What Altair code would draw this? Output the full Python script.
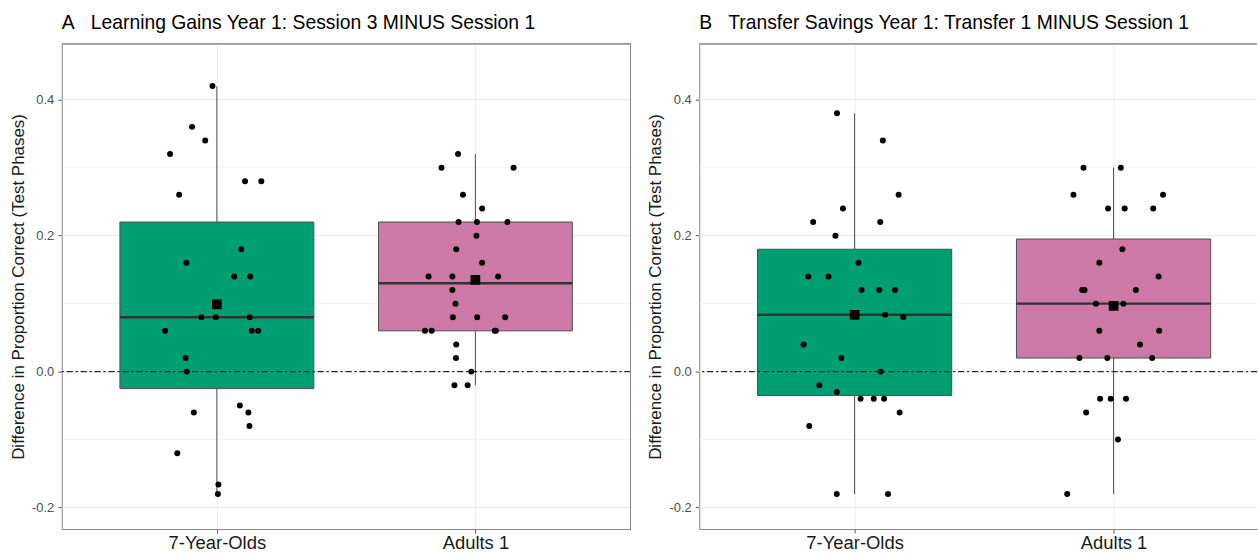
import altair as alt
import pandas as pd

# ---- categories -------------------------------------------------------------
GROUPS = ["7-Year-Olds", "Adults 1"]
POSITIONS = [1, 2]
FILLS = ["#009E73", "#CC79A7"]

# ---- panel A: Session 3 minus Session 1 -------------------------------------
a_child_vals = [0.42, 0.36, 0.34, 0.32, 0.28, 0.28, 0.26, 0.18, 0.16, 0.14, 0.14,
                0.08, 0.08, 0.08, 0.06, 0.06, 0.06, 0.02, 0.00, -0.05, -0.06,
                -0.06, -0.08, -0.12, -0.166, -0.18]
a_child_jitter = [-0.017, -0.096, -0.045, -0.181, 0.109, 0.172, -0.146, 0.094,
                  -0.118, 0.067, 0.129, -0.060, -0.004, 0.127, -0.200, 0.135,
                  0.160, -0.121, -0.116, 0.089, -0.089, 0.122, 0.126, -0.153,
                  0.006, 0.004]
a_adult_vals = [0.32, 0.30, 0.30, 0.26, 0.24, 0.22, 0.22, 0.22, 0.20, 0.18, 0.16,
                0.14, 0.14, 0.14, 0.12, 0.10, 0.08, 0.08, 0.08, 0.06, 0.06, 0.06,
                0.06, 0.04, 0.02, 0.00, -0.02, -0.02]
a_adult_jitter = [-0.067, -0.131, 0.148, -0.048, 0.026, -0.065, 0.006, 0.124,
                  0.004, -0.074, 0.026, -0.181, -0.089, 0.088, -0.089, -0.077,
                  -0.087, 0.007, 0.115, -0.195, -0.169, 0.075, 0.079, -0.074,
                  -0.075, -0.016, -0.081, -0.030]
a_q1 = [-0.025, 0.06]
a_median = [0.08, 0.13]
a_q3 = [0.22, 0.22]
a_whisk_lo = [-0.18, -0.02]
a_whisk_hi = [0.42, 0.32]
a_mean = [0.099, 0.135]

# ---- panel B: Transfer 1 minus Session 1 ------------------------------------
b_child_vals = [0.38, 0.34, 0.26, 0.24, 0.22, 0.22, 0.20, 0.16, 0.14, 0.14, 0.12,
                0.12, 0.12, 0.0835, 0.08, 0.04, 0.02, 0.00, -0.02, -0.03, -0.04,
                -0.04, -0.04, -0.06, -0.08, -0.18, -0.18]
b_child_jitter = [-0.068, 0.109, 0.170, -0.045, -0.160, 0.099, -0.074, 0.015,
                  -0.179, -0.101, 0.027, 0.095, 0.156, 0.118, 0.188, -0.197,
                  -0.051, 0.101, -0.136, -0.069, 0.023, 0.074, 0.114, 0.174,
                  -0.175, -0.069, 0.129]
b_adult_vals = [0.30, 0.30, 0.26, 0.26, 0.24, 0.24, 0.24, 0.18, 0.16, 0.14, 0.12,
                0.12, 0.12, 0.10, 0.10, 0.06, 0.06, 0.04, 0.02, 0.02, 0.02, -0.04,
                -0.04, -0.04, -0.06, -0.10, -0.18]
b_adult_jitter = [-0.116, 0.028, -0.155, 0.191, -0.021, 0.043, 0.153, 0.034,
                  -0.055, 0.174, -0.121, -0.112, 0.086, -0.068, 0.038, -0.055,
                  0.176, 0.102, -0.132, -0.024, 0.149, -0.052, -0.011, 0.048,
                  -0.106, 0.017, -0.179]
b_q1 = [-0.035, 0.02]
b_median = [0.0835, 0.10]
b_q3 = [0.18, 0.195]
b_whisk_lo = [-0.18, -0.18]
b_whisk_hi = [0.38, 0.30]
b_mean = [0.0835, 0.0967]

# ---- axes -------------------------------------------------------------------
Y_MIN, Y_MAX = -0.2315, 0.482
Y_MAJOR = [-0.2, 0.0, 0.2, 0.4]
Y_MINOR = [-0.1, 0.1, 0.3]
Y_TITLE = "Difference in Proportion Correct (Test Phases)"
BOX_HALF = 0.375

FONT = "Liberation Sans"
FRAME = "#858585"
GRID = "#ebebeb"

label_expr = " : ".join(
    f"datum.value == {p} ? '{g}'" for p, g in zip(POSITIONS, GROUPS)
) + " : ''"
y_label_expr = ("datum.value < 0 ? '-' + format(-datum.value, '.1f') "
                ": format(datum.value, '.1f')")

X_AXIS = alt.Axis(values=POSITIONS, labelExpr=label_expr, title=None,
                  grid=True, gridColor=GRID, gridWidth=1,
                  domain=True, domainColor=FRAME, domainWidth=1,
                  ticks=True, tickColor="#555555", tickSize=4,
                  labelFontSize=18.5, labelColor="#1a1a1a", labelPadding=1,
                  labelFont=FONT)
Y_AXIS = alt.Axis(values=Y_MAJOR, labelExpr=y_label_expr, title=Y_TITLE,
                  grid=False, domain=True, domainColor=FRAME, domainWidth=1,
                  ticks=True, tickColor="#555555", tickSize=4,
                  labelFontSize=13, labelColor="#4d4d4d", labelPadding=4,
                  labelFont=FONT, titleFont=FONT, titleFontSize=17,
                  titleFontWeight="normal", titleColor="#1a1a1a",
                  titlePadding=4)


def panel(title, child_vals, child_jit, adult_vals, adult_jit,
          q1, med, q3, lo, hi, mean, x_max, width, right_frame):
    pts = pd.DataFrame({
        "group": [GROUPS[0]] * len(child_vals) + [GROUPS[1]] * len(adult_vals),
        "pos": [POSITIONS[0]] * len(child_vals) + [POSITIONS[1]] * len(adult_vals),
        "jit": child_jit + adult_jit,
        "val": child_vals + adult_vals,
    })
    box = pd.DataFrame({
        "group": GROUPS, "pos": POSITIONS, "q1": q1, "med": med, "q3": q3,
        "lo": lo, "hi": hi, "mean": mean,
    })
    grid = pd.DataFrame({
        "y": Y_MAJOR + Y_MINOR,
        "w": [1.0] * len(Y_MAJOR) + [0.6] * len(Y_MINOR),
    })

    xs = alt.Scale(domain=[0.4, x_max], nice=False, zero=False)
    ys = alt.Scale(domain=[Y_MIN, Y_MAX], nice=False, zero=False)

    def X(field):
        return alt.X(field, scale=xs, axis=X_AXIS)

    def Y(field):
        return alt.Y(field, scale=ys, axis=Y_AXIS)

    grid_layer = alt.Chart(grid).mark_rule(color=GRID).encode(
        y=Y("y:Q"),
        strokeWidth=alt.StrokeWidth("w:Q", scale=None),
    )
    whisk_lo = alt.Chart(box).mark_rule(color="#4d4d4d", strokeWidth=1).encode(
        x=X("pos:Q"), y=Y("lo:Q"), y2="q1:Q",
    )
    whisk_hi = alt.Chart(box).mark_rule(color="#4d4d4d", strokeWidth=1).encode(
        x=X("pos:Q"), y=Y("q3:Q"), y2="hi:Q",
    )
    boxes = alt.Chart(box).transform_calculate(
        x0=f"datum.pos - {BOX_HALF}", x1=f"datum.pos + {BOX_HALF}"
    ).mark_bar(stroke="#4d4d4d", strokeWidth=1, opacity=1).encode(
        x=X("x0:Q"), x2="x1:Q", y=Y("q1:Q"), y2="q3:Q",
        color=alt.Color("group:N", scale=alt.Scale(domain=GROUPS, range=FILLS),
                        legend=None),
    )
    medians = alt.Chart(box).transform_calculate(
        x0=f"datum.pos - {BOX_HALF}", x1=f"datum.pos + {BOX_HALF}"
    ).mark_rule(color="#333333", strokeWidth=2.5).encode(
        x=X("x0:Q"), x2="x1:Q", y=Y("med:Q"),
    )
    zero = alt.Chart(box).mark_rule(
        color="#222222", strokeWidth=1, strokeDash=[6, 3, 2, 3]
    ).encode(y=alt.datum(0, scale=ys, axis=Y_AXIS))

    points = alt.Chart(pts).transform_calculate(
        xj="datum.pos + datum.jit"
    ).mark_circle(size=36, color="black", opacity=1).encode(
        x=X("xj:Q"), y=Y("val:Q"),
    )
    means = alt.Chart(box).mark_point(
        shape="square", filled=True, size=95, color="black", opacity=1
    ).encode(x=X("pos:Q"), y=Y("mean:Q"))

    frame_top = alt.Chart(box).mark_rule(color=FRAME, strokeWidth=1).encode(
        y=alt.datum(Y_MAX, scale=ys, axis=Y_AXIS)
    )

    layers = [grid_layer, whisk_lo, whisk_hi, boxes, medians, zero,
              points, means, frame_top]
    if right_frame:
        layers.append(
            alt.Chart(box).mark_rule(color=FRAME, strokeWidth=1).encode(
                x=alt.datum(x_max, scale=xs, axis=X_AXIS)
            )
        )
    return alt.layer(*layers).properties(
        width=width, height=487,
        title=alt.TitleParams(title, anchor="start", frame="group",
                              fontSize=19.4, font=FONT, fontWeight="normal",
                              color="black", offset=10),
    )


left = panel("A\u00a0\u00a0\u00a0Learning Gains Year 1: Session 3 MINUS Session 1",
             a_child_vals, a_child_jitter, a_adult_vals, a_adult_jitter,
             a_q1, a_median, a_q3, a_whisk_lo, a_whisk_hi, a_mean,
             2.6, 571, True)
right = panel("B\u00a0\u00a0\u00a0Transfer Savings Year 1: Transfer 1 MINUS Session 1",
              b_child_vals, b_child_jitter, b_adult_vals, b_adult_jitter,
              b_q1, b_median, b_q3, b_whisk_lo, b_whisk_hi, b_mean,
              0.4 + 560 / 260.0, 560, False)

chart = alt.hconcat(left, right, spacing=15).properties(
    padding={"left": 9, "top": 11, "right": 0, "bottom": 0},
    background="white",
).configure(font=FONT).configure_view(stroke="transparent")

chart.save("out.html", embed_options={"renderer": "svg", "actions": False})
